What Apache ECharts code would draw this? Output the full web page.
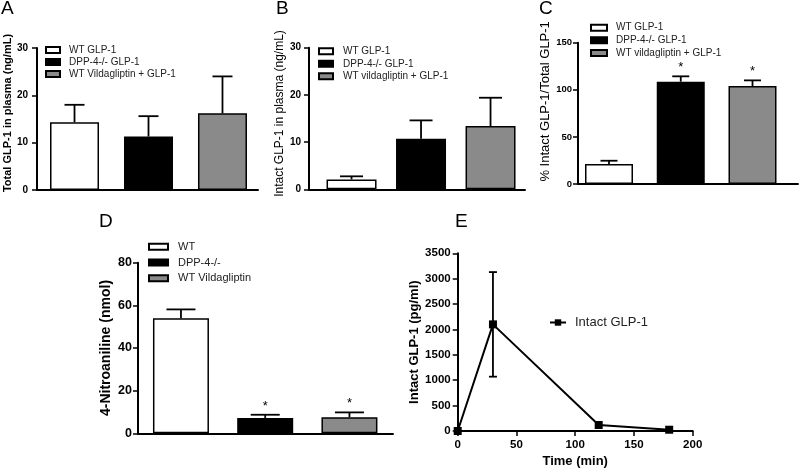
<!DOCTYPE html>
<html><head><meta charset="utf-8">
<script src="https://cdn.jsdelivr.net/npm/echarts@6/dist/echarts.min.js"></script>
<style>html,body{margin:0;padding:0;background:#fff}#c{width:800px;height:471px}</style>
</head><body><div id="c"></div>
<script>
// ---------- data ----------
const groupsA = ['WT GLP-1', 'DPP-4-/- GLP-1', 'WT Vildagliptin + GLP-1'];
const meanA = [14.3, 11.3, 16.2];
const semA = [3.7, 4.3, 7.8];

const groupsB = ['WT GLP-1', 'DPP-4-/- GLP-1', 'WT vildagliptin + GLP-1'];
const meanB = [2.1, 10.7, 13.4];
const semB = [0.65, 3.9, 6.0];

const groupsC = ['WT GLP-1', 'DPP-4-/- GLP-1', 'WT vildagliptin + GLP-1'];
const meanC = [21.2, 108.6, 104.0];
const semC = [3.5, 5.7, 6.0];
const starC = [false, true, true];

const groupsD = ['WT', 'DPP-4-/-', 'WT Vildagliptin'];
const meanD = [53.9, 7.2, 7.5];
const semD = [4.2, 1.5, 2.3];
const starD = [false, true, true];

const timeE = [0, 30, 120, 180];
const meanE = [0, 2100, 118, 25];
const semE = [0, 1030, 0, 0];
const nameE = 'Intact GLP-1';

// ---------- styling ----------
const FONT = 'Liberation Sans, Arial, sans-serif';
const barFills = ['#ffffff', '#000000', '#8a8a8a'];

const grids = [
  {left: 37, top: 48, width: 221, height: 142},
  {left: 309, top: 47.7, width: 216, height: 141.6},
  {left: 578, top: 42.7, width: 220, height: 141.3},
  {left: 138, top: 262.7, width: 255, height: 170.6},
  {left: 457.7, top: 253.3, width: 235, height: 177.7}
];

const panels = [
  {groups: groupsA, mean: meanA, sem: semA, star: null, xr: [-0.507, 2.48], ymax: 30, yint: 10, barW: 49, cap: 20,
   yname: 'Total GLP-1 in plasma (ng/mL)', ynameStyle: {fontSize: 11, fontWeight: 'bold', padding: [0, 0, 0, 12]}, nameGap: 19,
   tick: 10, margin: 9, legend: {left: 45, top: 44, iw: 14, ih: 6, fs: 10, lh: 12, pad: 4}},
  {groups: groupsB, mean: meanB, sem: semB, star: null, xr: [-0.612, 2.496], ymax: 30, yint: 10, barW: 50, cap: 23,
   yname: 'Intact GLP-1 in plasma (ng/mL)', ynameStyle: {fontSize: 12, fontWeight: 'normal', padding: [0, 0, 0, 10]}, nameGap: 16,
   tick: 10, margin: 8, legend: {left: 318, top: 45, iw: 14, ih: 6, fs: 10, lh: 12.5, pad: 5}},
  {groups: groupsC, mean: meanC, sem: semC, star: starC, xr: [-0.432, 2.634], ymax: 150, yint: 50, barW: 48, cap: 17,
   yname: '% Intact GLP-1/Total GLP-1', ynameStyle: {fontSize: 13, fontWeight: 'normal', padding: [0, 0, 0, 24]}, nameGap: 21,
   tick: 9.5, margin: 6, legend: {left: 590, top: 21.3, iw: 16, ih: 6, fs: 10, lh: 12.7, pad: 4}},
  {groups: groupsD, mean: meanD, sem: semD, star: starD, xr: [-0.510, 2.517], ymax: 80, yint: 20, barW: 56, cap: 29,
   yname: '4-Nitroaniline (nmol)', ynameStyle: {fontSize: 14, fontWeight: 'bold'}, nameGap: 25,
   tick: 12.5, margin: 6, legend: {left: 148, top: 238.8, iw: 19, ih: 6, fs: 11, lh: 15.8, pad: 5}}
];

function errRenderer(cap, upperOnly, stars) {
  return function (params, api) {
    const x = api.value(0), lo = api.value(1), hi = api.value(2);
    const pLo = api.coord([x, lo]), pHi = api.coord([x, hi]);
    const ls = {stroke: '#000', lineWidth: 1.8};
    const ch = [
      {type: 'line', shape: {x1: pLo[0], y1: pLo[1], x2: pHi[0], y2: pHi[1]}, style: ls},
      {type: 'line', shape: {x1: pHi[0] - cap / 2, y1: pHi[1], x2: pHi[0] + cap / 2, y2: pHi[1]}, style: ls}
    ];
    if (!upperOnly) ch.push({type: 'line', shape: {x1: pLo[0] - cap / 2, y1: pLo[1], x2: pLo[0] + cap / 2, y2: pLo[1]}, style: ls});
    if (stars && stars[params.dataIndex]) {
      ch.push({type: 'text', style: {text: '*', x: pHi[0], y: pHi[1] - 2, align: 'center', verticalAlign: 'bottom',
        fontSize: 13, fontFamily: FONT, fill: '#000'}});
    }
    return {type: 'group', children: ch};
  };
}

const option = {
  animation: false,
  backgroundColor: '#fff',
  textStyle: {fontFamily: FONT},
  title: [
    {text: 'A', left: 1, top: -1},
    {text: 'B', left: 276, top: -1},
    {text: 'C', left: 539, top: -1},
    {text: 'D', left: 99, top: 212},
    {text: 'E', left: 455, top: 212}
  ].map(t => Object.assign(t, {padding: 0, textStyle: {fontSize: 19, fontWeight: 'normal', color: '#000', fontFamily: FONT}})),
  grid: grids.map(g => Object.assign({}, g, {containLabel: false, outerBoundsMode: 'none'})),
  xAxis: [],
  yAxis: [],
  legend: [],
  series: []
};

panels.forEach((p, gi) => {
  option.xAxis.push({type: 'value', gridIndex: gi, min: p.xr[0], max: p.xr[1],
    axisLine: {show: true, onZero: false, lineStyle: {color: '#000', width: 2}},
    axisTick: {show: false}, axisLabel: {show: false}, splitLine: {show: false}});
  option.yAxis.push({type: 'value', gridIndex: gi, min: 0, max: p.ymax, interval: p.yint,
    axisLine: {show: true, onZero: false, lineStyle: {color: '#000', width: 2}},
    axisTick: {show: true, length: 5, lineStyle: {color: '#000', width: 1.5}},
    axisLabel: {fontSize: p.tick, fontWeight: 'bold', color: '#000', margin: p.margin, fontFamily: FONT},
    splitLine: {show: false},
    name: p.yname, nameLocation: 'middle', nameGap: p.nameGap,
    nameTextStyle: Object.assign({color: '#000', fontFamily: FONT}, p.ynameStyle)});
  p.groups.forEach((g, i) => {
    option.series.push({type: 'bar', name: g, xAxisIndex: gi, yAxisIndex: gi,
      data: [[i, p.mean[i]]], barWidth: p.barW, barGap: '-100%',
      itemStyle: {color: barFills[i], borderColor: '#000', borderWidth: 1.5}, z: 2});
  });
  option.series.push({type: 'custom', name: 'err' + gi, xAxisIndex: gi, yAxisIndex: gi,
    renderItem: errRenderer(p.cap, true, p.star),
    data: p.groups.map((g, i) => [i, p.mean[i], p.mean[i] + p.sem[i]]), z: 3});
  const L = p.legend;
  option.legend.push({orient: 'vertical', left: L.left, top: L.top, itemWidth: L.iw, itemHeight: L.ih,
    itemGap: 0, padding: 0, selectedMode: false, icon: 'rect', data: p.groups,
    textStyle: {fontSize: L.fs, lineHeight: L.lh, color: '#222', fontFamily: FONT, padding: [0, 0, 0, L.pad]}});
});

// panel E
option.xAxis.push({type: 'value', gridIndex: 4, min: 0, max: 200, interval: 50,
  axisLine: {show: true, onZero: false, lineStyle: {color: '#000', width: 2}},
  axisTick: {show: true, length: 5, lineStyle: {color: '#000', width: 1.5}},
  axisLabel: {fontSize: 11.5, fontWeight: 'bold', color: '#000', margin: 8, fontFamily: FONT},
  splitLine: {show: false},
  name: 'Time (min)', nameLocation: 'middle', nameGap: 24,
  nameTextStyle: {fontSize: 13, fontWeight: 'bold', color: '#000', fontFamily: FONT}});
option.yAxis.push({type: 'value', gridIndex: 4, min: 0, max: 3500, interval: 500,
  axisLine: {show: true, onZero: false, lineStyle: {color: '#000', width: 2}},
  axisTick: {show: true, length: 5, lineStyle: {color: '#000', width: 1.5}},
  axisLabel: {fontSize: 11.5, fontWeight: 'bold', color: '#000', margin: 7, fontFamily: FONT,
    formatter: v => String(v)},
  splitLine: {show: false},
  name: 'Intact GLP-1 (pg/ml)', nameLocation: 'middle', nameGap: 37,
  nameTextStyle: {fontSize: 13, fontWeight: 'bold', color: '#000', fontFamily: FONT}});
option.series.push({type: 'line', name: nameE, xAxisIndex: 4, yAxisIndex: 4,
  data: timeE.map((t, i) => [t, meanE[i]]), symbol: 'rect', symbolSize: 8,
  itemStyle: {color: '#000'}, lineStyle: {color: '#000', width: 2}, z: 4});
option.series.push({type: 'custom', name: 'errE', xAxisIndex: 4, yAxisIndex: 4,
  renderItem: errRenderer(8, false, null),
  data: timeE.map((t, i) => [t, meanE[i] - semE[i], meanE[i] + semE[i]]).filter((d, i) => semE[i] > 0), z: 3});
option.legend.push({left: 549, top: 316, itemWidth: 16, itemHeight: 8, padding: 0, selectedMode: false,
  data: [nameE], textStyle: {fontSize: 13, color: '#222', fontFamily: FONT, padding: [0, 0, 0, 4]}});

const chart = echarts.init(document.getElementById('c'), null, {renderer: 'canvas'});
chart.setOption(option);
</script></body></html>
